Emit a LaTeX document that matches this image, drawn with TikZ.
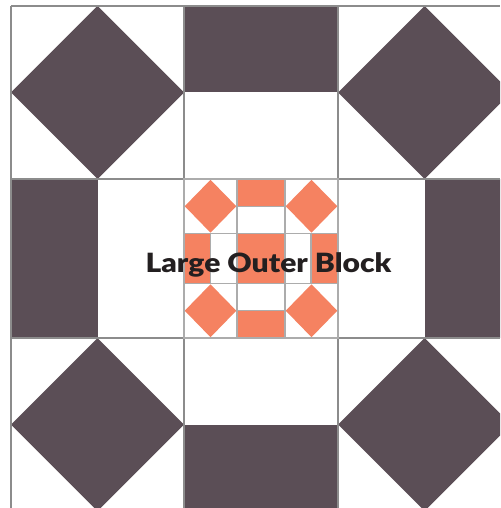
\documentclass[tikz,border=0pt]{standalone}
\usepackage{fontspec}
\setmainfont{Lato}[BoldFont={* Black}]
\definecolor{plum}{RGB}{91,78,86}
\definecolor{coral}{RGB}{245,130,97}
\definecolor{bigline}{RGB}{140,140,140}
\definecolor{smallline}{RGB}{172,172,172}
\definecolor{ink}{RGB}{35,31,32}
\tikzset{
  darkfill/.style={fill=plum},
  orangefill/.style={fill=coral},
  bigrule/.style={draw=bigline,line width=1.1pt},
  smallrule/.style={draw=smallline,line width=1.3pt},
  titletext/.style={font=\fontsize{26.5}{30}\selectfont\bfseries,text=ink,inner sep=0pt,anchor=base,xscale=1.134}
}
\begin{document}
\begin{tikzpicture}[x=1pt,y=-1pt]
\useasboundingbox (0,0) rectangle (500,508);
\fill[white] (0,0) rectangle (500,508);
\begin{scope}
\clip (0,0) rectangle (500,508);
% big corner diamonds
\fill[darkfill] (97.5,6) -- (184,92.5) -- (97.5,179) -- (11,92.5) -- cycle;
\fill[darkfill] (424.5,6) -- (511,92.5) -- (424.5,179) -- (338,92.5) -- cycle;
\fill[darkfill] (97.5,338) -- (184,424.5) -- (97.5,511) -- (11,424.5) -- cycle;
\fill[darkfill] (424.5,338) -- (511,424.5) -- (424.5,511) -- (338,424.5) -- cycle;
% big edge rectangles
\fill[darkfill] (184,6) rectangle (338,92.5);
\fill[darkfill] (184,424.5) rectangle (338,511);
\fill[darkfill] (11,179) rectangle (97.5,338);
\fill[darkfill] (424.5,179) rectangle (511,338);
% small block: corner diamonds
\fill[orangefill] (210.5,179.8) -- (236.3,206.2) -- (210.5,232.7) -- (184.7,206.2) -- cycle;
\fill[orangefill] (311.5,179.8) -- (337.3,206.2) -- (311.5,232.7) -- (285.7,206.2) -- cycle;
\fill[orangefill] (210.5,284.3) -- (236.3,310.7) -- (210.5,337.2) -- (184.7,310.7) -- cycle;
\fill[orangefill] (311.5,284.3) -- (337.3,310.7) -- (311.5,337.2) -- (285.7,310.7) -- cycle;
% small block: rectangles and centre
\fill[orangefill] (237,179) rectangle (285,206.5);
\fill[orangefill] (237,310.5) rectangle (285,338);
\fill[orangefill] (184,233.5) rectangle (210.7,283.5);
\fill[orangefill] (311,233.5) rectangle (338,283.5);
\fill[orangefill] (237,233.5) rectangle (285,283.5);
% big grid lines
\draw[bigrule] (11,6) -- (11,508);
\draw[bigrule] (184,6) -- (184,508);
\draw[bigrule] (338,6) -- (338,508);
\draw[bigrule] (11,6) -- (500,6);
\draw[bigrule] (11,179) -- (500,179);
\draw[bigrule] (11,338) -- (500,338);
% small block lines
\draw[smallrule] (184,179) rectangle (338,338);
\draw[smallrule] (237,179) -- (237,338);
\draw[smallrule] (285,179) -- (285,338);
\draw[smallrule] (184,233.5) -- (338,233.5);
\draw[smallrule] (184,283.5) -- (338,283.5);
\draw[smallrule] (210.7,233.5) -- (210.7,283.5);
\draw[smallrule] (311,233.5) -- (311,283.5);
\draw[smallrule] (237,206.5) -- (285,206.5);
\draw[smallrule] (237,310.5) -- (285,310.5);
\end{scope}
\node[titletext] (title) at (268.5,272.3) {Large Outer Block};
\end{tikzpicture}
\end{document}
